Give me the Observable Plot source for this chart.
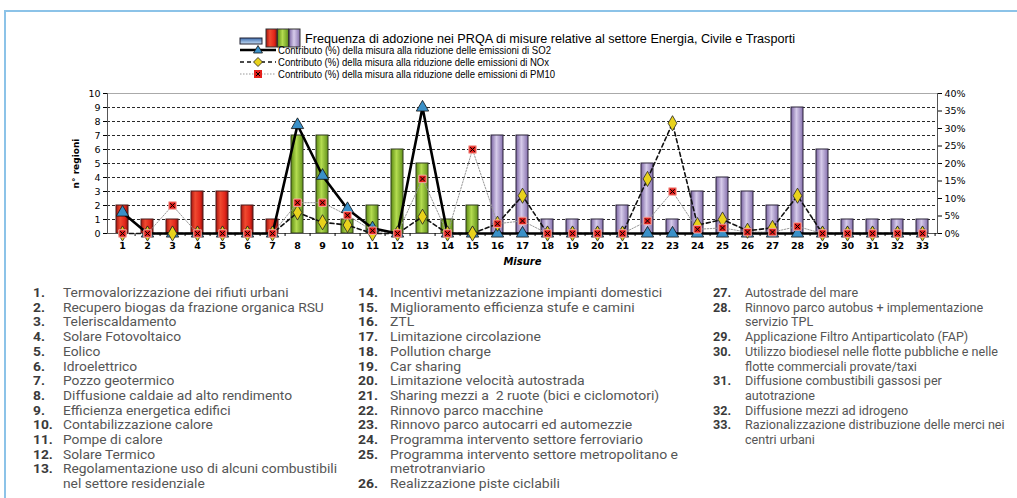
<!DOCTYPE html>
<html><head><meta charset="utf-8">
<script src="https://cdn.jsdelivr.net/npm/d3@7"></script>
<script src="https://cdn.jsdelivr.net/npm/@observablehq/plot@0.6"></script>
<style>
body{margin:0;background:#fff;}
#wrap{position:relative;width:1017px;height:498px;overflow:hidden;background:#fff;}
#frameTop{position:absolute;left:4px;top:10px;width:1013px;height:2px;background:#8cc3e8;}
#frameLeft{position:absolute;left:4px;top:10px;width:2px;height:488px;background:#8cc3e8;}
#legend{position:absolute;left:0;top:0;}
#chart{position:absolute;left:0;top:85px;}
.col{position:absolute;top:286px;font-family:Roboto,sans-serif;font-size:12.5px;color:#555;line-height:14.7px;}
.item{display:flex;white-space:pre;transform-origin:0 0;}
.num{font-weight:bold;color:#3a3a3a;flex:none;}
</style></head>
<body><div id="wrap"><div id="frameTop"></div><div id="frameLeft"></div><div id="legend"></div><div id="chart"></div>
<div class="col" id="col1" style="left:33px"></div>
<div class="col" id="col2" style="left:358px"></div>
<div class="col" id="col3" style="left:713px"></div>
</div>
<script>
// ---- data ----
const categories = [1,2,3,4,5,6,7,8,9,10,11,12,13,14,15,16,17,18,19,20,21,22,23,24,25,26,27,28,29,30,31,32,33];
const frequency  = [2,1,1,3,3,2,1,7,7,1,2,6,5,1,2,7,7,1,1,1,2,5,1,3,4,3,2,9,6,1,1,1,1];
const sector = ["Energia","Energia","Energia","Energia","Energia","Energia","Energia",
  "Civile","Civile","Civile","Civile","Civile","Civile","Civile","Civile",
  "Trasporti","Trasporti","Trasporti","Trasporti","Trasporti","Trasporti","Trasporti","Trasporti","Trasporti",
  "Trasporti","Trasporti","Trasporti","Trasporti","Trasporti","Trasporti","Trasporti","Trasporti","Trasporti"];
const so2Pct  = [6,0,0,0,0,0,0,31,16.5,7,1.5,0,36,0,0,0,0,0,0,0,0,0,0,0,0,0,0,0,0,0,0,0,0];
const noxPct  = [0,0,0,0,0,0,0,6,3.2,2.4,0,0,4.8,0,0,2.8,10.8,0,0,0,0,15.6,31.5,2.4,4,0.8,1.6,10.8,0,0,0,0,0];
const pm10Pct = [0,0,8,0,0,0,0,8.8,8.8,5.2,0.8,0,15.6,0,24,2.8,3.6,0,0,0,0,3.6,12,1.2,1.6,0.4,0.4,2,0,0,0,0,0];
const leftTicks  = [0,1,2,3,4,5,6,7,8,9,10];
const rightTicks = [0,5,10,15,20,25,30,35,40];
const legendTitle = "Frequenza di adozione nei PRQA di misure relative al settore Energia, Civile e Trasporti";
const seriesLabels = [
  "Contributo (%) della misura alla riduzione delle emissioni di SO2",
  "Contributo (%) della misura alla riduzione delle emissioni di NOx",
  "Contributo (%) della misura alla riduzione delle emissioni di PM10"];
const measures = [
  "Termovalorizzazione dei rifiuti urbani",
  "Recupero biogas da frazione organica RSU",
  "Teleriscaldamento",
  "Solare Fotovoltaico",
  "Eolico",
  "Idroelettrico",
  "Pozzo geotermico",
  "Diffusione caldaie ad alto rendimento",
  "Efficienza energetica edifici",
  "Contabilizzazione calore",
  "Pompe di calore",
  "Solare Termico",
  "Regolamentazione uso di alcuni combustibili\nnel settore residenziale",
  "Incentivi metanizzazione impianti domestici",
  "Miglioramento efficienza stufe e camini",
  "ZTL",
  "Limitazione circolazione",
  "Pollution charge",
  "Car sharing",
  "Limitazione velocità autostrada",
  "Sharing mezzi a  2 ruote (bici e ciclomotori)",
  "Rinnovo parco macchine",
  "Rinnovo parco autocarri ed automezzie",
  "Programma intervento settore ferroviario",
  "Programma intervento settore metropolitano e\nmetrotranviario",
  "Realizzazione piste ciclabili",
  "Autostrade del mare",
  "Rinnovo parco autobus + implementazione\nservizio TPL",
  "Applicazione Filtro Antiparticolato (FAP)",
  "Utilizzo biodiesel nelle flotte pubbliche e nelle\nflotte commerciali provate/taxi",
  "Diffusione combustibili gassosi per\nautotrazione",
  "Diffusione mezzi ad idrogeno",
  "Razionalizzazione distribuzione delle merci nei\ncentri urbani"];

// ---- chart ----
const data = categories.map((c,i)=>({cat:c, freq:frequency[i], sector:sector[i], so2:so2Pct[i], nox:noxPct[i], pm10:pm10Pct[i]}));
const pctToUnits = 10/40;
const pIn = 0.52, pOut = 0.24;
const step = (1017-107-80)/(categories.length - pIn + 2*pOut);
const bySector = s => data.filter(d=>d.sector===s);

const chart = Plot.plot({
  width:1017, height:190, marginLeft:107, marginRight:80, marginTop:8, marginBottom:42,
  style:{fontFamily:"'DejaVu Sans', Verdana, sans-serif", fontSize:"9.5px", color:"#000", background:"transparent", overflow:"visible"},
  x:{type:"band", domain:categories, paddingInner:pIn, paddingOuter:pOut, label:null},
  y:{domain:[0,10], label:null},
  marks:[
    Plot.ruleY(leftTicks.filter(v=>v>0 && v<10), {stroke:"#111", strokeDasharray:"3,2", strokeWidth:0.9}),
    Plot.ruleY([10], {stroke:"#aaa"}),
    Plot.barY(bySector("Energia"), {x:"cat", y:"freq", fill:"url(#gRed)", stroke:"#4a1a1a", strokeWidth:1}),
    Plot.barY(bySector("Civile"), {x:"cat", y:"freq", fill:"url(#gGreen)", stroke:"#2f3a1a", strokeWidth:1}),
    Plot.barY(bySector("Trasporti"), {x:"cat", y:"freq", fill:"url(#gPurple)", stroke:"#2a2238", strokeWidth:1}),
    Plot.frame({anchor:"left", stroke:"#555"}),
    Plot.frame({anchor:"right", stroke:"#555"}),
    Plot.ruleY([0], {stroke:"#555", strokeWidth:1}),
    Plot.axisY({anchor:"left", ticks:leftTicks, tickSize:4, tickPadding:3, label:"n° regioni", labelAnchor:"center", labelOffset:35, labelArrow:"none"}),
    Plot.axisY({anchor:"right", ticks:rightTicks.map(p=>p*pctToUnits), tickFormat:v=>Math.round(v/pctToUnits)+"%", tickSize:4, tickPadding:3, label:null}),
    Plot.axisX({anchor:"bottom", tickSize:0, tickPadding:9, fontWeight:"bold", label:"Misure", labelAnchor:"center", labelOffset:31}),
    Plot.axisX({anchor:"bottom", tickSize:3, tickFormat:()=>"", dx:step/2, label:null}),
    Plot.line(data, {x:"cat", y:d=>d.pm10*pctToUnits, stroke:"#999", strokeWidth:1, strokeDasharray:"1.5,1.5"}),
    Plot.line(data, {x:"cat", y:d=>d.nox*pctToUnits, stroke:"#111", strokeWidth:1.6, strokeDasharray:"4,3"}),
    Plot.line(data, {x:"cat", y:d=>d.so2*pctToUnits, stroke:"#000", strokeWidth:2.6}),
    Plot.dot(data, {x:"cat", y:d=>d.so2*pctToUnits, symbol:"triangle", r:4.6, fill:"#3a90c8", stroke:"#111", strokeWidth:0.8}),
    Plot.dot(data, {x:"cat", y:d=>d.nox*pctToUnits, symbol:"diamond", r:4.6, fill:"#e8d21c", stroke:"#222", strokeWidth:0.8}),
    Plot.dot(data, {x:"cat", y:d=>d.pm10*pctToUnits, symbol:"square", r:4.2, fill:"#e4201c", stroke:"#f2a8a0", strokeWidth:1}),
    Plot.dot(data, {x:"cat", y:d=>d.pm10*pctToUnits, symbol:"times", r:2.2, stroke:"#000", strokeWidth:1})
  ]
});
const defs = `
<linearGradient id="gRed" x1="0" x2="1" y1="0" y2="0"><stop offset="0" stop-color="#a8140e"/><stop offset="0.35" stop-color="#f04a30"/><stop offset="0.75" stop-color="#e2261a"/><stop offset="1" stop-color="#8e100c"/></linearGradient>
<linearGradient id="gGreen" x1="0" x2="1" y1="0" y2="0"><stop offset="0" stop-color="#5c8a12"/><stop offset="0.45" stop-color="#b4dc50"/><stop offset="1" stop-color="#62921a"/></linearGradient>
<linearGradient id="gPurple" x1="0" x2="1" y1="0" y2="0"><stop offset="0" stop-color="#7a64a2"/><stop offset="0.45" stop-color="#d6cbea"/><stop offset="1" stop-color="#8570ad"/></linearGradient>
<linearGradient id="gBlue" x1="0" x2="0" y1="0" y2="1"><stop offset="0" stop-color="#3d6db0"/><stop offset="1" stop-color="#c6ddf3"/></linearGradient>`;
d3.select(chart).insert("defs", ":first-child").html(defs);
d3.select(chart).selectAll("text").each(function(){
  const t = d3.select(this);
  if (t.text()==="n° regioni") t.attr("font-weight","bold").attr("font-size","9px");
  if (t.text()==="Misure") t.attr("font-weight","bold").attr("font-style","italic").attr("font-size","10px");
});
document.getElementById("chart").appendChild(chart);

// ---- legend ----
const lg = d3.select("#legend").append("svg").attr("width",1017).attr("height",85)
  .style("font-family","'Liberation Sans', Arial, sans-serif");
lg.append("defs").html(defs);
lg.append("rect").attr("x",240).attr("y",38).attr("width",22).attr("height",6).attr("fill","url(#gBlue)").attr("stroke","#223");
["url(#gRed)","url(#gGreen)","url(#gPurple)"].forEach((f,i)=>{
  lg.append("rect").attr("x",266+i*11.5).attr("y",29).attr("width",11).attr("height",18).attr("fill",f).attr("stroke","#333");
});
lg.append("text").attr("x",305).attr("y",42.5).attr("font-size","13px").attr("textLength",490).attr("lengthAdjust","spacingAndGlyphs").text(legendTitle);
const rowsY = [50,62,74];
const styles = [
  {stroke:"#000", w:2.6, dash:null, sym:"tri"},
  {stroke:"#111", w:1.6, dash:"4,3", sym:"dia"},
  {stroke:"#999", w:1, dash:"1.5,1.5", sym:"sq"}];
const textW = [273, 271, 277];
rowsY.forEach((y,i)=>{
  const s = styles[i];
  lg.append("line").attr("x1",240).attr("x2",276).attr("y1",y).attr("y2",y).attr("stroke",s.stroke).attr("stroke-width",s.w).attr("stroke-dasharray",s.dash);
  if (s.sym==="tri") lg.append("path").attr("d",`M258,${y-4.5}L262.5,${y+3}L253.5,${y+3}Z`).attr("fill","#3a90c8").attr("stroke","#111").attr("stroke-width",0.8);
  if (s.sym==="dia") lg.append("path").attr("d",`M258,${y-4.5}L262.5,${y}L258,${y+4.5}L253.5,${y}Z`).attr("fill","#e8d21c").attr("stroke","#222").attr("stroke-width",0.8);
  if (s.sym==="sq") { lg.append("rect").attr("x",254).attr("y",y-4).attr("width",8).attr("height",8).attr("fill","#e4201c");
    lg.append("path").attr("d",`M256,${y-2}L260,${y+2}M260,${y-2}L256,${y+2}`).attr("stroke","#000").attr("stroke-width",1); }
  lg.append("text").attr("x",278).attr("y",y+3.5).attr("font-size","10.5px").attr("textLength",textW[i]).attr("lengthAdjust","spacingAndGlyphs").text(seriesLabels[i]);
});

// ---- list (three columns; each scaled so its longest line matches the reference width) ----
const ctx = document.createElement("canvas").getContext("2d");
ctx.font = "12.5px Roboto";
const cols = [[1,13,30,13,274],[14,26,32,25,288],[27,33,32,30,253]];
cols.forEach(([a,b,w,ref,target],ci)=>{
  const sx = target / ctx.measureText(measures[ref-1].split("\n")[0]).width;
  const col = d3.select("#col"+(ci+1));
  for (let n=a;n<=b;n++){
    const it = col.append("div").attr("class","item").style("transform",`scaleX(${sx})`);
    it.append("span").attr("class","num").style("width",(w/sx)+"px").text(n+".");
    it.append("span").text(measures[n-1]);
  }
});
</script></body></html>
